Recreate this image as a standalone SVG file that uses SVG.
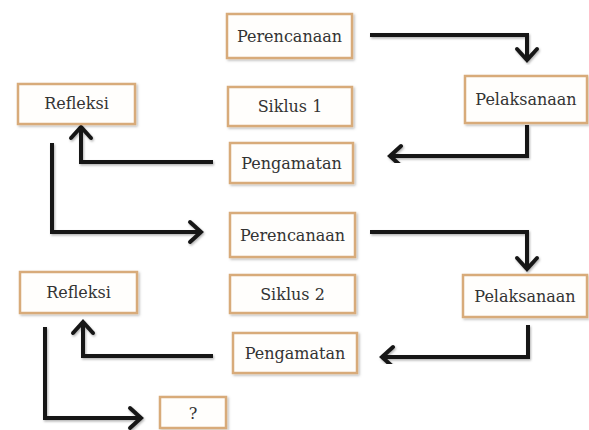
<svg xmlns="http://www.w3.org/2000/svg" width="589" height="430" viewBox="0 0 589 430">
<style>
.box{fill:#fffefc;stroke:#d8ab7a;stroke-width:2.5;filter:url(#sh)}
.lbl{font-family:'DejaVu Serif','Liberation Serif',serif;font-size:16px;fill:#333;text-anchor:middle}
.con{fill:none;stroke:#151515;stroke-width:4;stroke-linejoin:miter;filter:url(#lsh)}
</style>
<defs>
<filter id="sh" x="-20%" y="-20%" width="140%" height="150%"><feDropShadow dx="1.5" dy="1.5" stdDeviation="1.2" flood-color="#000" flood-opacity="0.25"/></filter>
<filter id="lsh" x="-10%" y="-10%" width="120%" height="130%"><feDropShadow dx="1" dy="1.5" stdDeviation="1.2" flood-color="#000" flood-opacity="0.3"/></filter>
<marker id="ah" viewBox="-16 -13 20 26" markerWidth="20" markerHeight="26" refX="0" refY="0" orient="auto" markerUnits="userSpaceOnUse">
<path d="M-11,-10 L0,0 L-11,10" fill="none" stroke="#151515" stroke-width="4" stroke-linecap="round"/>
</marker>
</defs>
<rect width="589" height="430" fill="#fff"/>
<g id="connectors">
<path class="con" d="M370,35 H527 V60" marker-end="url(#ah)"/>
<path class="con" d="M527,125 V156 H390" marker-end="url(#ah)"/>
<path class="con" d="M213,162 H81 V127" marker-end="url(#ah)"/>
<path class="con" d="M52,143 V232 H201" marker-end="url(#ah)"/>
<path class="con" d="M370,232 H527 V269" marker-end="url(#ah)"/>
<path class="con" d="M528,325 V357 H382" marker-end="url(#ah)"/>
<path class="con" d="M213,356 H83 V322" marker-end="url(#ah)"/>
<path class="con" d="M45,327 V418 H141" marker-end="url(#ah)"/>
</g>
<g id="perencanaan1"><rect class="box" x="227" y="14" width="125" height="44"/><text class="lbl" x="289.5" y="42">Perencanaan</text></g>
<g id="siklus1"><rect class="box" x="228" y="87" width="124" height="39"/><text class="lbl" x="290" y="112">Siklus 1</text></g>
<g id="pengamatan1"><rect class="box" x="230" y="143" width="123" height="40"/><text class="lbl" x="291.5" y="169">Pengamatan</text></g>
<g id="refleksi1"><rect class="box" x="18" y="84" width="117" height="40"/><text class="lbl" x="76.5" y="109">Refleksi</text></g>
<g id="pelaksanaan1"><rect class="box" x="465" y="76" width="122" height="47"/><text class="lbl" x="526" y="105">Pelaksanaan</text></g>
<g id="perencanaan2"><rect class="box" x="230" y="213" width="125" height="44"/><text class="lbl" x="292.5" y="241">Perencanaan</text></g>
<g id="siklus2"><rect class="box" x="230" y="275" width="125" height="38"/><text class="lbl" x="292.5" y="300">Siklus 2</text></g>
<g id="pengamatan2"><rect class="box" x="233" y="333" width="124" height="40"/><text class="lbl" x="295" y="359">Pengamatan</text></g>
<g id="refleksi2"><rect class="box" x="20" y="272" width="117" height="41"/><text class="lbl" x="78.5" y="298">Refleksi</text></g>
<g id="pelaksanaan2"><rect class="box" x="463" y="275" width="124" height="42"/><text class="lbl" x="525" y="302">Pelaksanaan</text></g>
<g id="q"><rect class="box" x="160" y="397" width="66" height="31"/><text class="lbl" x="193" y="419">?</text></g>
</svg>
